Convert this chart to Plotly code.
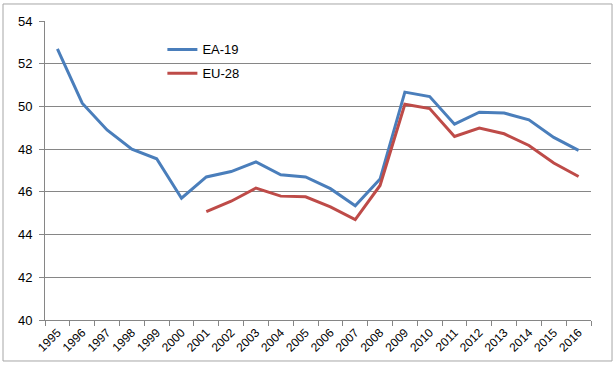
import plotly.graph_objects as go

years = [str(y) for y in range(1995, 2017)]
ea19 = [52.7, 50.15, 48.9, 48.0, 47.55, 45.7, 46.7, 46.95, 47.4, 46.8, 46.7, 46.15,
        45.35, 46.6, 50.67, 50.46, 49.17, 49.73, 49.69, 49.37, 48.55, 47.94]
eu28 = [None, None, None, None, None, None, 45.07, 45.56, 46.18, 45.8, 45.77, 45.3,
        44.7, 46.3, 50.1, 49.9, 48.59, 48.99, 48.72, 48.17, 47.35, 46.72]
y_ticks = [40, 42, 44, 46, 48, 50, 52, 54]

BLUE = "#4a7ebb"
RED = "#be4b48"

fig = go.Figure()
fig.add_trace(go.Scatter(x=years, y=ea19, mode="lines", name="EA-19", legendgroup="a",
                         line=dict(color=BLUE, width=3)))
fig.add_trace(go.Scatter(x=years, y=eu28, mode="lines", name="EU-28", legendgroup="b",
                         line=dict(color=RED, width=3)))

fig.update_layout(
    width=616, height=365,
    margin=dict(l=45, r=25, t=21, b=45, autoexpand=False),
    paper_bgcolor="white", plot_bgcolor="white",
    font=dict(family="Liberation Sans, Arial, sans-serif", size=13, color="#000000"),
    showlegend=True,
    legend=dict(x=0.215, y=0.955, xanchor="left", yanchor="top",
                bgcolor="rgba(0,0,0,0)", font=dict(size=13),
                itemwidth=30, tracegroupgap=4),
    xaxis=dict(type="category", tickson="boundaries", ticks="outside", ticklen=5,
               tickcolor="#868686", showline=True, linecolor="#868686", linewidth=1,
               showgrid=False, tickangle=-45, tickfont=dict(size=12),
               range=[-0.5, 21.5], fixedrange=True, automargin=False),
    yaxis=dict(range=[40, 54], tickvals=y_ticks, ticks="outside", ticklen=5,
               tickcolor="#868686", showline=True, linecolor="#868686", linewidth=1,
               showgrid=True, gridcolor="#868686", gridwidth=1, zeroline=False,
               tickfont=dict(size=13), ticklabelstandoff=4, fixedrange=True,
               automargin=False),
    shapes=[dict(type="rect", xref="paper", yref="paper",
                 x0=-0.0769, x1=1.0385, y0=-0.1371, y1=1.0569,
                 line=dict(color="#a6a6a6", width=1), layer="above")],
)

fig.write_html("out.html", config={"displayModeBar": False},
               post_script="document.body.style.margin='0';document.body.style.overflow='hidden';")
